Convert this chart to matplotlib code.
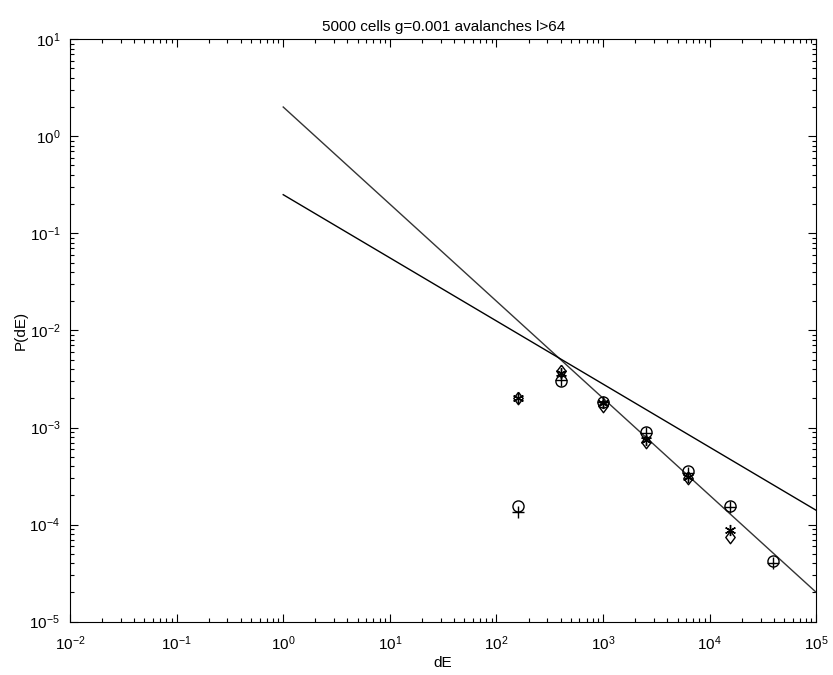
import matplotlib
matplotlib.use('Agg')
import matplotlib.pyplot as plt
from matplotlib.ticker import LogLocator

plt.rcParams['font.family'] = ['Liberation Sans', 'DejaVu Sans']
plt.rcParams['mathtext.fontset'] = 'custom'
plt.rcParams['mathtext.rm'] = 'Liberation Sans'
plt.rcParams['mathtext.default'] = 'regular'

# avalanche size bins (dE)
dE = [160, 400, 1000, 2500, 6250, 15625, 39062]

# four measured series, None = no point
p_circle = [1.55e-4, 3.0e-3, 1.82e-3, 8.9e-4, 3.55e-4, 1.55e-4, 4.2e-5]
p_plus = [1.35e-4, 3.1e-3, 1.85e-3, 8.7e-4, 3.4e-4, 1.5e-4, 4.0e-5]
p_star = [2.0e-3, 3.6e-3, 1.8e-3, 7.5e-4, 3.1e-4, 8.9e-5, None]
p_diamond = [2.0e-3, 3.8e-3, 1.65e-3, 7.1e-4, 3.0e-4, 7.5e-5, None]

# reference power laws drawn between x=1 and x=1e5
fit_x = [1, 1e5]
fit1_y = [2.0, 2.0e-5]
fit2_y = [0.25, 1.4e-4]

def pts(y):
    xs = [a for a, b in zip(dE, y) if b is not None]
    ys = [b for b in y if b is not None]
    return xs, ys

diamond = [(0, 1), (0.75, 0), (0, -1), (-0.75, 0), (0, 1)]

fig = plt.figure(figsize=(8.33, 6.75), dpi=100)
ax = fig.add_axes([0.084, 0.079, 0.896, 0.863])

ax.plot(fit_x, fit1_y, color='#333333', lw=1)
ax.plot(fit_x, fit2_y, color='black', lw=1)

x, y = pts(p_circle)
ax.plot(x, y, 'o', mfc='none', mec='black', ms=8, mew=1)
x, y = pts(p_plus)
ax.plot(x, y, '+', color='black', ms=9, mew=1)
x, y = pts(p_star)
ax.plot(x, y, marker=(6, 2, 0), ls='none', color='black', ms=8, mew=1)
x, y = pts(p_diamond)
ax.plot(x, y, marker=diamond, ls='none', mfc='none', mec='black', ms=9, mew=1)

ax.set_xscale('log')
ax.set_yscale('log')
ax.set_xlim(1e-2, 1e5)
ax.set_ylim(1e-5, 1e1)
ax.xaxis.set_major_locator(LogLocator(base=10, numticks=20))
ax.yaxis.set_major_locator(LogLocator(base=10, numticks=20))
ax.xaxis.set_minor_locator(LogLocator(base=10, subs=range(2, 10), numticks=20))
ax.yaxis.set_minor_locator(LogLocator(base=10, subs=range(2, 10), numticks=20))

ax.tick_params(which='both', direction='in', top=True, right=True, labelsize=11, width=0.8)
ax.tick_params(which='major', length=6)
ax.tick_params(which='minor', length=3)
ax.tick_params(axis='x', which='major', pad=9)
ax.tick_params(axis='y', which='major', pad=7)
for s in ax.spines.values():
    s.set_linewidth(0.8)

ax.set_xlabel('dE', fontsize=11, labelpad=2)
ax.set_ylabel('P(dE)', fontsize=11, labelpad=1)
ax.set_title('5000 cells g=0.001 avalanches l>64', fontsize=11)

fig.savefig('out.png', dpi=100)
